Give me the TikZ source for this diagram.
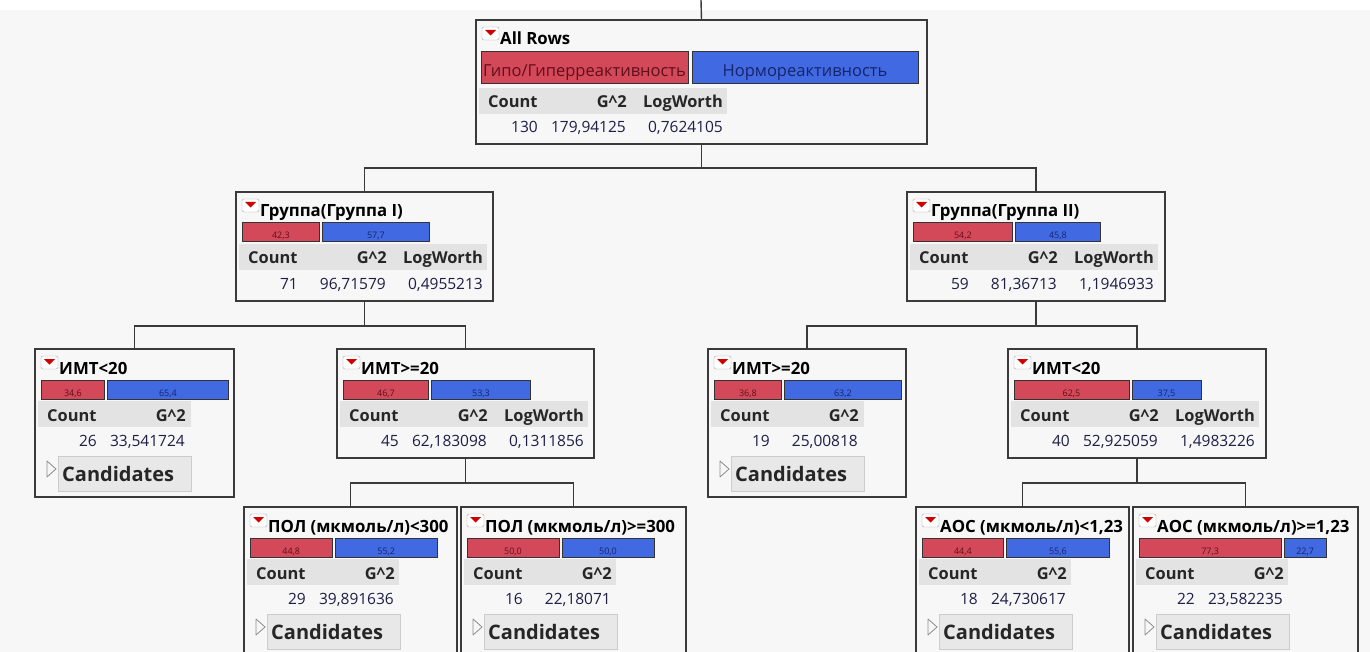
\documentclass[tikz,border=0pt]{standalone}
\usepackage{fontspec}
\setmainfont{Open Sans}
\usepackage{tikz}

\definecolor{pagegray}{HTML}{F7F7F7}
\definecolor{stripgray}{HTML}{E3E3E3}
\definecolor{hypored}{HTML}{D4495A}
\definecolor{normblue}{HTML}{4169E1}
\definecolor{hypotext}{HTML}{5E0F1A}
\definecolor{normtext}{HTML}{16246A}
\definecolor{valuetext}{HTML}{1E1E46}
\definecolor{framegray}{HTML}{3A3A3A}
\definecolor{iconred}{HTML}{D00000}

\tikzset{
  splitnode/.style={rectangle, draw=framegray, line width=1.4pt, fill=pagegray, anchor=north west, inner sep=0pt, outer sep=0pt},
  link/.style={draw=framegray, line width=1.4pt},
  redbar/.style={fill=hypored, draw=black!80, line width=1pt},
  bluebar/.style={fill=normblue, draw=black!80, line width=1pt},
  titletext/.style={font=\fontsize{16.8}{19}\selectfont\bfseries, inner sep=0pt, anchor=base west},
  headtext/.style={font=\fontsize{16.4}{19}\selectfont\bfseries, inner sep=0pt, text=black!85},
  numtext/.style={font=\fontsize{15.5}{18}\selectfont, inner sep=0pt, text=valuetext, anchor=base east},
  barlabel/.style={font=\fontsize{9}{10}\selectfont, inner sep=0pt, anchor=base},
  catlabel/.style={font=\fontsize{16.5}{19}\selectfont, inner sep=0pt, anchor=base},
  candtext/.style={font=\fontsize{20}{22}\selectfont\bfseries, inner sep=0pt, anchor=base west, text=black!85}
}

\newcommand{\splitbox}[6]{%
  \node[splitnode, minimum width=#4pt, minimum height=#5pt] (#1) at (#2,#3) {};
  \begin{scope}[shift={(#1.north west)}]
    \draw[black!35, fill=white, rounded corners=2pt] (6,7) rectangle (23,20);
    \fill[iconred] (9,10) -- (20,10) -- (14.5,15.5) -- cycle;
    \node[titletext] (#1-title) at (24,25) {#6};
  \end{scope}}

\newcommand{\splitbars}[4]{%
  \pgfmathsetmacro{\redend}{6+1.84*#2}
  \pgfmathsetmacro{\bluestart}{\redend+3}
  \begin{scope}[shift={(#1.north west)}]
    \draw[redbar] (6,31) rectangle (\redend,50);
    \draw[bluebar] (\bluestart,31) rectangle (193,50);
    \node[barlabel, text=hypotext] (#1-lo) at ({(6+\redend)/2},47) {#3};
    \node[barlabel, text=normtext] (#1-hi) at ({(\bluestart+193)/2},47) {#4};
  \end{scope}}

\newcommand{\splitstats}[6]{%
  \begin{scope}[shift={(#1.north west)}, yshift=-#2pt]
    \fill[stripgray] (3,52) rectangle (#3,78);
    \node[headtext, anchor=base west] (#1-hc) at (12,72) {Count};
    \node[headtext, anchor=base east] (#1-hg) at (151,72) {G\textasciicircum2};
    \node[numtext] (#1-vc) at (62,97) {#4};
    \node[numtext] (#1-vg) at (150,97) {#5};
    \if\relax\detokenize{#6}\relax\else
      \node[headtext, anchor=base east] (#1-hl) at (247,72) {LogWorth};
      \node[numtext] (#1-vl) at (247,97) {#6};
    \fi
  \end{scope}}

\newcommand{\splitcand}[1]{%
  \begin{scope}[shift={(#1.north west)}]
    \draw[black!45, line width=0.8pt, line join=round] (12,112) -- (21,120) -- (12,128) -- cycle;
    \draw[black!20, fill=black!9, line width=1pt] (23,107) rectangle (156,142);
    \node[candtext] (#1-cand) at (27,132) {Candidates};
  \end{scope}}

\begin{document}
\begin{tikzpicture}[x=1pt, y=-1pt]
\useasboundingbox (0,0) rectangle (1370,652);
\clip (0,0) rectangle (1370,652);
\fill[white] (0,0) rectangle (1370,652);
\fill[pagegray] (0,10) rectangle (1370,652);

\coordinate (root) at (701,0);

\splitbox{all}{476}{20}{451}{124}{All Rows}
\begin{scope}[shift={(all.north west)}]
  \draw[redbar] (5,32) rectangle (212,64);
  \draw[bluebar] (216,32) rectangle (442,64);
  \node[catlabel, text=hypotext] (all-lo) at (108.5,57) {Гипо/Гиперреактивность};
  \node[catlabel, text=normtext] (all-hi) at (329,57) {Нормореактивность};
\end{scope}
\splitstats{all}{16}{251}{130}{179,94125}{0,7624105}

\splitbox{g1}{236}{192}{257}{109}{Группа(Группа I)}
\splitbars{g1}{42.3}{42,3}{57,7}
\splitstats{g1}{0}{251}{71}{96,71579}{0,4955213}

\splitbox{g2}{907}{192}{258}{109}{Группа(Группа II)}
\splitbars{g2}{54.2}{54,2}{45,8}
\splitstats{g2}{0}{251}{59}{81,36713}{1,1946933}

\splitbox{bmi1}{35}{349}{199}{148}{ИМТ<20}
\splitbars{bmi1}{34.6}{34,6}{65,4}
\splitstats{bmi1}{0}{156}{26}{33,541724}{}
\splitcand{bmi1}

\splitbox{bmi2}{337}{349}{257}{109}{ИМТ>=20}
\splitbars{bmi2}{46.7}{46,7}{53,3}
\splitstats{bmi2}{0}{251}{45}{62,183098}{0,1311856}

\splitbox{bmi3}{708}{349}{198}{148}{ИМТ>=20}
\splitbars{bmi3}{36.8}{36,8}{63,2}
\splitstats{bmi3}{0}{156}{19}{25,00818}{}
\splitcand{bmi3}

\splitbox{bmi4}{1008}{349}{258}{109}{ИМТ<20}
\splitbars{bmi4}{62.5}{62,5}{37,5}
\splitstats{bmi4}{0}{251}{40}{52,925059}{1,4983226}

\splitbox{pol1}{244}{507}{213}{170}{ПОЛ (мкмоль/л)<300}
\splitbars{pol1}{44.8}{44,8}{55,2}
\splitstats{pol1}{0}{155}{29}{39,891636}{}
\splitcand{pol1}

\splitbox{pol2}{461}{507}{225}{170}{ПОЛ (мкмоль/л)>=300}
\splitbars{pol2}{50.0}{50,0}{50,0}
\splitstats{pol2}{0}{155}{16}{22,18071}{}
\splitcand{pol2}

\splitbox{aoc1}{916}{507}{213}{170}{АОС (мкмоль/л)<1,23}
\splitbars{aoc1}{44.4}{44,4}{55,6}
\splitstats{aoc1}{0}{155}{18}{24,730617}{}
\splitcand{aoc1}

\splitbox{aoc2}{1133}{507}{225}{170}{АОС (мкмоль/л)>=1,23}
\splitbars{aoc2}{77.3}{77,3}{22,7}
\splitstats{aoc2}{0}{155}{22}{23,582235}{}
\splitcand{aoc2}

\draw[link] (root) -- (all.north);
\draw[link] (all.south) -- ++(0,24) -| (g1.north);
\draw[link] (all.south) -- ++(0,24) -| (g2.north);
\draw[link] (g1.south) -- ++(0,25) -| (bmi1.north);
\draw[link] (g1.south) -- ++(0,25) -| (bmi2.north);
\draw[link] (g2.south) -- ++(0,25) -| (bmi3.north);
\draw[link] (g2.south) -- ++(0,25) -| (bmi4.north);
\draw[link] (bmi2.south) -- ++(0,25) -| (pol1.north);
\draw[link] (bmi2.south) -- ++(0,25) -| (pol2.north);
\draw[link] (bmi4.south) -- ++(0,25) -| (aoc1.north);
\draw[link] (bmi4.south) -- ++(0,25) -| (aoc2.north);
\end{tikzpicture}
\end{document}
